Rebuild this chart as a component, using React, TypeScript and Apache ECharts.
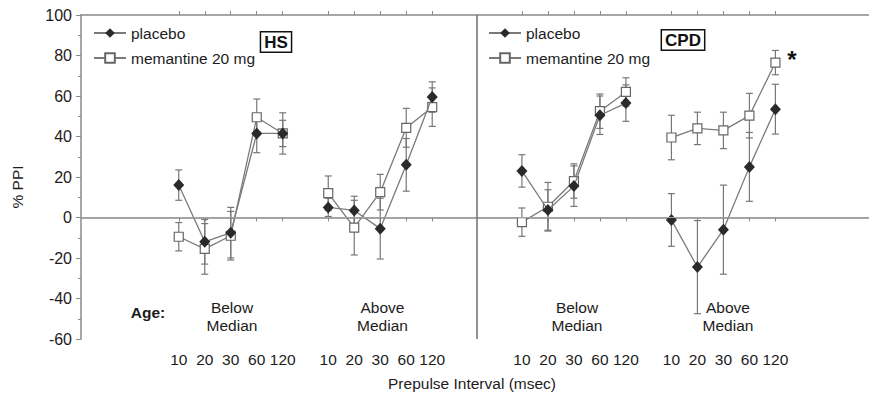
import React, { useEffect, useRef } from 'react';
import * as echarts from 'echarts';

// ---- data ----
const intervals = ['10', '20', '30', '60', '120'];
const groupNames = ['HS below median', 'HS above median', 'CPD below median', 'CPD above median'];
const placeboMean = [
  [16, -12, -7.5, 41.5, 41.5],
  [5, 3.5, -5.5, 26, 59.5],
  [23, 3.7, 15.5, 50.5, 56.5],
  [-1.2, -24.5, -6, 25, 53.5],
];
const placeboSem = [
  [7.5, 11, 12.5, 9.5, 6.5],
  [4.5, 7, 15, 13, 7.5],
  [8, 10, 10, 9.5, 9],
  [13, 23, 22, 17, 12.3],
];
const memantineMean = [
  [-9.5, -15.5, -9, 49.5, 41.5],
  [12, -5, 12.5, 44.3, 54.5],
  [-2.3, 5.3, 18, 52.5, 62],
  [39.5, 44, 43, 50.3, 76.5],
];
const memantineSem = [
  [7, 12.5, 12, 9, 10.2],
  [8.5, 13.5, 8.8, 9.6, 9.5],
  [7, 12, 8.5, 8.5, 7],
  [11, 8, 9, 11, 6],
];
const yMin = -60;
const yMax = 100;
const yStep = 20;

// ---- layout (x position of each group's first interval, in interval units) ----
const groupStart = [0, 5.75, 13.2, 18.95];
const xMin = -3.76;
const xMax = 26.55;
const panelDivider = 11.47;

const FONT = 'Liberation Sans, Arial, Helvetica, sans-serif';
const GRAY = '#7a7a7a';
const TEXT = '#1c1c1c';

export default function App() {
  const ref = useRef<HTMLDivElement>(null);
  useEffect(() => {
    if (!ref.current) return;
    const chart = echarts.init(ref.current, null, { renderer: 'svg' });

    const tickPositions: number[] = [];
    const labelMap: Record<string, string> = {};
    groupStart.forEach((g) => {
      intervals.forEach((lab, i) => {
        tickPositions.push(g + i);
        labelMap[(g + i).toFixed(2)] = lab;
      });
    });

    const lineSeries: any[] = [];
    const errData: number[][] = [];
    groupNames.forEach((_, g) => {
      const pData = intervals.map((_, i) => [groupStart[g] + i, placeboMean[g][i]]);
      const mData = intervals.map((_, i) => [groupStart[g] + i, memantineMean[g][i]]);
      intervals.forEach((_, i) => {
        const x = groupStart[g] + i;
        errData.push([x, placeboMean[g][i] - placeboSem[g][i], placeboMean[g][i] + placeboSem[g][i]]);
        errData.push([x, memantineMean[g][i] - memantineSem[g][i], memantineMean[g][i] + memantineSem[g][i]]);
      });
      lineSeries.push({
        type: 'line',
        name: 'memantine 20 mg',
        data: mData,
        symbol: 'rect',
        symbolSize: 9,
        lineStyle: { color: GRAY, width: 1.3 },
        itemStyle: { color: '#ffffff', borderColor: '#666', borderWidth: 1.2 },
        z: 3,
      });
      lineSeries.push({
        type: 'line',
        name: 'placebo',
        data: pData,
        symbol: 'diamond',
        symbolSize: [11, 12],
        lineStyle: { color: GRAY, width: 1.3 },
        itemStyle: { color: '#2a2a2a', borderColor: '#2a2a2a', borderWidth: 0 },
        z: 4,
      });
    });

    const errSeries = {
      type: 'custom',
      name: 'sem',
      data: errData,
      encode: { x: 0, y: [1, 2] },
      z: 2,
      silent: true,
      renderItem: (params: any, api: any) => {
        const x = api.value(0);
        const lo = api.coord([x, api.value(1)]);
        const hi = api.coord([x, api.value(2)]);
        const w = 3.5;
        const st = { stroke: '#777', lineWidth: 1.2 };
        return {
          type: 'group',
          children: [
            { type: 'line', shape: { x1: hi[0], y1: hi[1], x2: lo[0], y2: lo[1] }, style: st },
            { type: 'line', shape: { x1: hi[0] - w, y1: hi[1], x2: hi[0] + w, y2: hi[1] }, style: st },
            { type: 'line', shape: { x1: lo[0] - w, y1: lo[1], x2: lo[0] + w, y2: lo[1] }, style: st },
          ],
        };
      },
    };

    const refSeries = {
      type: 'line',
      name: 'ref',
      data: [],
      silent: true,
      markLine: {
        silent: true,
        symbol: 'none',
        label: { show: false },
        animation: false,
        data: [
          { yAxis: 0, lineStyle: { color: '#a0a0a0', width: 1, type: 'solid' } },
          { xAxis: panelDivider, lineStyle: { color: '#777', width: 1.6, type: 'solid' } },
        ],
      },
    };

    const legendBase = {
      itemWidth: 32,
      itemHeight: 12,
      padding: 0,
      selectedMode: false,
      textStyle: { fontSize: 15.5, color: TEXT, fontFamily: FONT, lineHeight: 14 },
    };

    const txt = (x: number, y: number, text: string, extra: any = {}, rotation = 0) => ({
      type: 'text',
      x,
      y,
      rotation,
      style: {
        text,
        fontSize: 15.5,
        fontFamily: FONT,
        fill: TEXT,
        align: 'center',
        verticalAlign: 'middle',
        lineHeight: 18,
        ...extra,
      },
    });

    const boxStyle = {
      fontSize: 17,
      fontWeight: 'bold',
      fill: '#111',
      borderColor: '#111',
      borderWidth: 1.5,
      padding: [1, 3, 0, 3],
      lineHeight: 18,
      backgroundColor: '#fff',
    };

    chart.setOption({
      animation: false,
      grid: { left: 81, right: 0, top: 15, bottom: 56, containLabel: false },
      xAxis: [
        {
          type: 'value',
          min: xMin,
          max: xMax,
          position: 'bottom',
          axisLine: { show: true, lineStyle: { color: '#8a8a8a', width: 1.5 } },
          axisTick: { show: true, inside: false, length: 4, customValues: tickPositions, lineStyle: { color: '#8a8a8a' } },
          axisLabel: {
            show: true,
            customValues: tickPositions,
            fontSize: 15.5,
            color: TEXT,
            fontFamily: FONT,
            margin: 12,
            formatter: (v: number) => labelMap[v.toFixed(2)] ?? '',
          },
          splitLine: { show: false },
        },
        {
          type: 'value',
          min: xMin,
          max: xMax,
          position: 'top',
          axisLine: { show: true, onZero: false, lineStyle: { color: '#8a8a8a', width: 1.5 } },
          axisTick: { show: true, inside: false, length: 4, customValues: tickPositions, lineStyle: { color: '#8a8a8a' } },
          axisLabel: { show: false },
          splitLine: { show: false },
        },
      ],
      yAxis: {
        type: 'value',
        min: yMin,
        max: yMax,
        interval: yStep,
        axisLine: { show: true, onZero: false, lineStyle: { color: '#8a8a8a', width: 1.5 } },
        axisTick: { show: true, length: 5, lineStyle: { color: '#8a8a8a' } },
        minorTick: { show: true, splitNumber: 2, length: 3, lineStyle: { color: '#8a8a8a' } },
        axisLabel: { fontSize: 16, color: TEXT, fontFamily: FONT, margin: 9 },
        splitLine: { show: false },
      },
      legend: [
        { ...legendBase, data: ['placebo'], left: 93, top: 25 },
        { ...legendBase, data: ['memantine 20 mg'], left: 93, top: 50 },
        { ...legendBase, data: ['placebo'], left: 488, top: 25 },
        { ...legendBase, data: ['memantine 20 mg'], left: 488, top: 50 },
      ],
      series: [refSeries, errSeries, ...lineSeries],
      graphic: [
        txt(17, 187, '% PPI', {}, Math.PI / 2),
        txt(472, 383, 'Prepulse Interval (msec)'),
        txt(148, 312, 'Age:', { fontWeight: 'bold' }),
        txt(232, 316, 'Below\nMedian'),
        txt(382.5, 316, 'Above\nMedian'),
        txt(577, 316, 'Below\nMedian'),
        txt(728, 316, 'Above\nMedian'),
        txt(276, 42, 'HS', boxStyle),
        txt(683, 40, 'CPD', boxStyle),
        txt(792, 59, '*', { fontSize: 24, fontWeight: 'bold', fill: '#111' }),
      ],
    });

    return () => chart.dispose();
  }, []);

  return (
    <div
      ref={ref}
      style={{ position: 'absolute', left: 0, top: 0, width: 869, height: 395, background: '#fff' }}
    />
  );
}
